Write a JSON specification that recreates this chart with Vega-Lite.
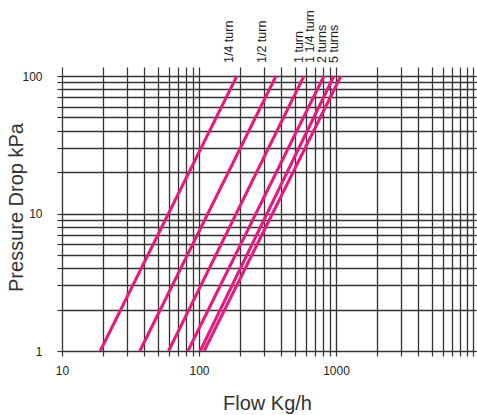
{
  "$schema": "https://vega.github.io/schema/vega-lite/v6.json",
  "width": 411,
  "height": 275,
  "autosize": "none",
  "padding": {"left": 62, "top": 76, "right": 4, "bottom": 64},
  "background": "white",
  "config": {
    "view": {"stroke": null},
    "font": "Liberation Sans",
    "axis": {
      "grid": true,
      "gridColor": "#333333",
      "gridWidth": 1.3,
      "gridOpacity": 1,
      "domain": false,
      "tickColor": "#333333",
      "tickSize": 5,
      "tickWidth": 1.2,
      "labelFontSize": 12,
      "labelColor": "#222222",
      "labelFont": "Liberation Sans",
      "labelOverlap": false,
      "labelFlush": false,
      "titleFont": "Liberation Sans",
      "titleFontSize": 20,
      "titleFontWeight": "normal",
      "titleColor": "#333333"
    }
  },
  "datasets": {
    "curves": [
      {"setting": "1/4 turn", "flow": 19, "dp": 1},
      {"setting": "1/4 turn", "flow": 189, "dp": 100},
      {"setting": "1/2 turn", "flow": 37, "dp": 1},
      {"setting": "1/2 turn", "flow": 365, "dp": 100},
      {"setting": "1 turn", "flow": 60, "dp": 1},
      {"setting": "1 turn", "flow": 584, "dp": 100},
      {"setting": "1 1/4 turn", "flow": 83, "dp": 1},
      {"setting": "1 1/4 turn", "flow": 817, "dp": 100},
      {"setting": "2 turns", "flow": 102, "dp": 1},
      {"setting": "2 turns", "flow": 966, "dp": 100},
      {"setting": "5 turns", "flow": 109, "dp": 1},
      {"setting": "5 turns", "flow": 1087, "dp": 100}
    ],
    "labels": [
      {"setting": "1/4 turn", "flow": 166, "dp": 100},
      {"setting": "1/2 turn", "flow": 288, "dp": 100},
      {"setting": "1 turn", "flow": 537, "dp": 100},
      {"setting": "1 1/4 turn", "flow": 646, "dp": 100},
      {"setting": "2 turns", "flow": 790, "dp": 100},
      {"setting": "5 turns", "flow": 967, "dp": 100}
    ]
  },
  "resolve": {"axis": {"x": "independent", "y": "independent"}},
  "layer": [
    {
      "data": {"name": "curves"},
      "mark": {"type": "line", "color": "#E8197D", "strokeWidth": 3, "strokeCap": "butt"},
      "encoding": {
        "x": {
          "field": "flow",
          "type": "quantitative",
          "scale": {"type": "log", "domain": [10, 10000]},
          "axis": {
            "orient": "bottom",
            "values": [10, 20, 30, 40, 50, 60, 70, 80, 90, 100, 200, 300, 400, 500, 600, 700, 800, 900, 1000, 2000, 3000, 4000, 5000, 6000, 7000, 8000, 9000, 10000],
            "labelExpr": "datum.value == 10 || datum.value == 100 || datum.value == 1000 ? format(datum.value, 'd') : ''",
            "labelPadding": 9,
            "labelDx": -4,
            "title": "Flow Kg/h",
            "titleX": 205,
            "titleY": 58,
            "titleBaseline": "alphabetic",
            "titleAlign": "center"
          }
        },
        "y": {
          "field": "dp",
          "type": "quantitative",
          "scale": {"type": "log", "domain": [1, 100]},
          "axis": {
            "orient": "left",
            "values": [1, 2, 3, 4, 5, 6, 7, 8, 9, 10, 20, 30, 40, 50, 60, 70, 80, 90, 100],
            "labelExpr": "datum.value == 1 || datum.value == 10 || datum.value == 100 ? format(datum.value, 'd') : ''",
            "labelPadding": 15,
            "title": "Pressure Drop kPa",
            "titleX": -39.5,
            "titleY": 131,
            "titleAngle": 270,
            "titleBaseline": "alphabetic",
            "titleAlign": "center"
          }
        },
        "detail": {"field": "setting"}
      }
    },
    {
      "data": {"name": "labels"},
      "mark": {"type": "text", "angle": 270, "align": "left", "baseline": "middle", "dx": 13, "fontSize": 12.5, "font": "Liberation Sans", "color": "#222222"},
      "encoding": {
        "x": {
          "field": "flow",
          "type": "quantitative",
          "scale": {"type": "log", "domain": [10, 10000]},
          "axis": {
            "orient": "top",
            "values": [10, 20, 30, 40, 50, 60, 70, 80, 90, 100, 200, 300, 400, 500, 600, 700, 800, 900, 1000, 2000, 3000, 4000, 5000, 6000, 7000, 8000, 9000, 10000],
            "labels": false,
            "grid": false,
            "tickSize": 9,
            "title": null
          }
        },
        "y": {
          "field": "dp",
          "type": "quantitative",
          "scale": {"type": "log", "domain": [1, 100]},
          "axis": {
            "orient": "right",
            "values": [1, 2, 3, 4, 5, 6, 7, 8, 9, 10, 20, 30, 40, 50, 60, 70, 80, 90, 100],
            "labels": false,
            "grid": false,
            "tickSize": 4,
            "title": null
          }
        },
        "text": {"field": "setting"}
      }
    }
  ]
}
